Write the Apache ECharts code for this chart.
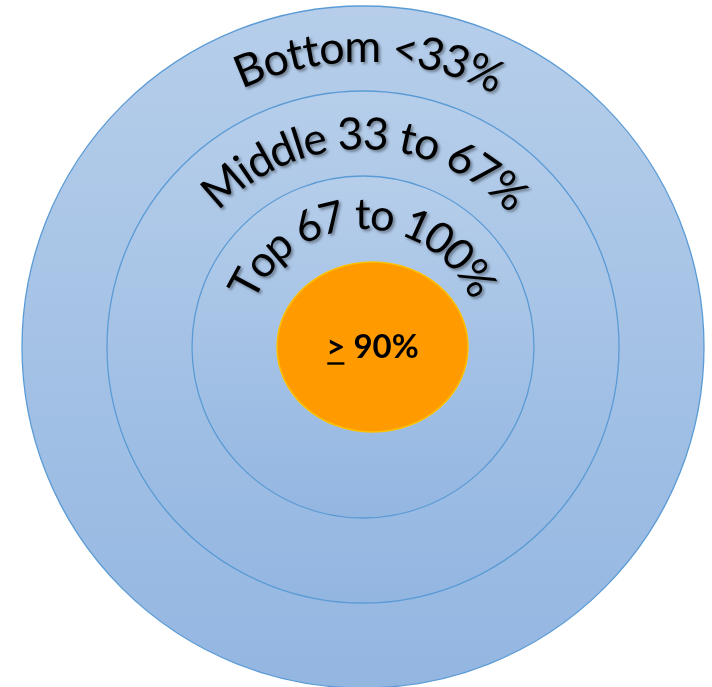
<!DOCTYPE html>
<html>
<head>
<meta charset="utf-8">
<script src="https://cdn.jsdelivr.net/npm/echarts@6/dist/echarts.min.js"></script>
<style>
  html, body { margin: 0; padding: 0; background: #ffffff; }
  #chart { width: 712px; height: 687px; }
</style>
</head>
<body>
<div id="chart"></div>
<script>
// Bands, outermost first
const ringLabels = ['Bottom <33%', 'Middle 33 to 67%', 'Top 67 to 100%'];
const ringShares = [1, 1, 1];
// Core target, drawn as an underlined ">" followed by the figure
const coreMark = '>';
const coreText = ' 90%';

// ---- layout ----
const CX = 363, CY = 347;
const ringRadius = [341, 256, 171];
// baseline radius and angular extent (degrees, clockwise from 12 o'clock) of each arc label
const arcLayout = [
  { base: 285, from: -25, to: 27 },
  { base: 198, from: -46.5, to: 47.5 },
  { base: 118, from: -67, to: 64 }
];
const core = { cx: 372.5, cy: 347, rx: 95.5, ry: 85 };
const FONT = 'Lato, "Open Sans", sans-serif';

const measureCtx = document.createElement('canvas').getContext('2d');
function textWidth(str, size, weight) {
  measureCtx.font = (weight || 'normal') + ' ' + size + 'px ' + FONT;
  return measureCtx.measureText(str).width;
}

function ringFill() {
  return new echarts.graphic.LinearGradient(0, 0, 0, 1, [
    { offset: 0, color: '#b6ceea' },
    { offset: 1, color: '#93b6e1' }
  ]);
}

// Rings as single-slice pies
const series = ringLabels.map((name, i) => ({
  type: 'pie',
  name: name,
  center: [CX, CY],
  radius: [0, ringRadius[i]],
  silent: true,
  animation: false,
  label: { show: false },
  labelLine: { show: false },
  emphasis: { disabled: true },
  itemStyle: { color: ringFill(), borderColor: '#5b9bd5', borderWidth: 1.3 },
  data: [{ name: name, value: ringShares[i] }]
}));

// Characters laid out along an arc
function arcText(label, lay) {
  const chars = Array.from(label);
  const deg = Math.PI / 180;
  const span = (lay.to - lay.from) * deg;
  // fit the font size so the label fills its arc measured at mid glyph height
  const unit = textWidth(label, 100) / 100;
  let size = 44;
  for (let k = 0; k < 4; k++) {
    const rm = lay.base + 0.34 * size;
    size = span * rm / unit;
  }
  const rMid = lay.base + 0.32 * size;
  const total = textWidth(label, size);
  const startAng = lay.from * deg;
  const els = [];
  let acc = 0;
  chars.forEach((ch) => {
    const w = textWidth(ch, size);
    const s = acc + w / 2;
    acc += w;
    const th = startAng + (s / total) * span;
    if (ch === ' ') return;
    els.push({
      type: 'text',
      x: CX + rMid * Math.sin(th),
      y: CY - rMid * Math.cos(th),
      rotation: -th,
      z: 10,
      silent: true,
      style: {
        text: ch,
        fill: '#000000',
        font: 'normal ' + size.toFixed(1) + 'px ' + FONT,
        align: 'center',
        verticalAlign: 'middle',
        textShadowColor: 'rgba(0,0,0,0.4)',
        textShadowBlur: 3,
        textShadowOffsetX: 2,
        textShadowOffsetY: 2
      }
    });
  });
  return els;
}

const graphics = [];
graphics.push({
  type: 'ellipse',
  z: 10,
  silent: true,
  shape: { cx: core.cx, cy: core.cy, rx: core.rx, ry: core.ry },
  style: { fill: '#ff9b00', stroke: '#ffc000', lineWidth: 1.5 }
});
ringLabels.forEach((lab, i) => graphics.push(...arcText(lab, arcLayout[i])));

// Centre label
const coreSize = 33;
const wMark = textWidth(coreMark, coreSize, 'bold');
const wRest = textWidth(coreText, coreSize, 'bold');
const x0 = core.cx - (wMark + wRest) / 2;
graphics.push({
  type: 'text',
  x: x0,
  y: core.cy,
  z: 11,
  silent: true,
  style: {
    text: coreMark + coreText,
    fill: '#000000',
    font: 'bold ' + coreSize + 'px ' + FONT,
    align: 'left',
    verticalAlign: 'middle'
  }
});
graphics.push({
  type: 'line',
  z: 11,
  silent: true,
  shape: { x1: x0 + 1, y1: core.cy + 16.5, x2: x0 + wMark - 1, y2: core.cy + 16.5 },
  style: { stroke: '#000000', lineWidth: 2.4 }
});

const chart = echarts.init(document.getElementById('chart'), null, { renderer: 'canvas' });
chart.setOption({
  backgroundColor: '#ffffff',
  animation: false,
  series: series,
  graphic: { elements: graphics }
});
</script>
</body>
</html>
